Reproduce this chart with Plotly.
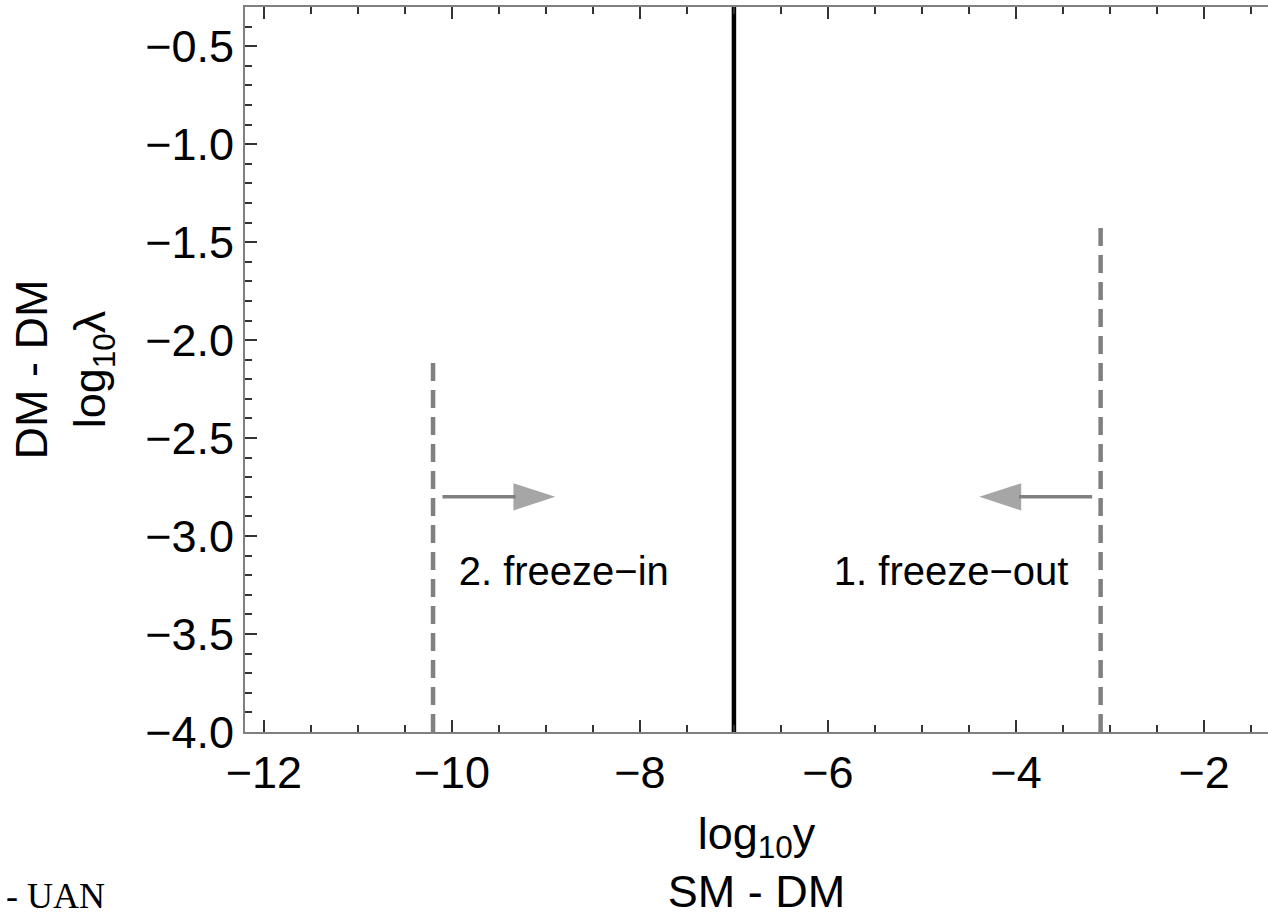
import plotly.graph_objects as go

# ---- data ----
boundary_x = [-7.0, -7.0]
boundary_y = [-4.0, -0.3]

freeze_in_x = [-10.2, -10.2]
freeze_in_y = [-4.0, -2.08]

freeze_out_x = [-3.1, -3.1]
freeze_out_y = [-4.0, -1.41]

arrow_in_x = [-10.1, -8.9]
arrow_in_y = [-2.8, -2.8]
arrow_out_x = [-3.19, -4.39]
arrow_out_y = [-2.8, -2.8]

label_text = ["2. freeze\u2212in", "1. freeze\u2212out"]
label_x = [-8.81, -4.69]
label_y = [-3.2, -3.2]

x_range = [-12.2, -1.32]
y_range = [-4.0, -0.3]

FONT = "Liberation Sans, Arial, sans-serif"
GRAY = "#808080"

fig = go.Figure()

fig.add_trace(go.Scatter(x=boundary_x, y=boundary_y, mode="lines",
                         line=dict(color="black", width=4.5), showlegend=False, hoverinfo="skip"))
for xs, ys in [(freeze_in_x, freeze_in_y), (freeze_out_x, freeze_out_y)]:
    fig.add_trace(go.Scatter(x=xs, y=ys, mode="lines",
                             line=dict(color=GRAY, width=4.5, dash="18px,9px"),
                             showlegend=False, hoverinfo="skip"))
for xs, ys in [(arrow_in_x, arrow_in_y), (arrow_out_x, arrow_out_y)]:
    fig.add_trace(go.Scatter(x=xs, y=ys, mode="lines+markers",
                             line=dict(color=GRAY, width=3.5),
                             marker=dict(symbol="arrow", size=[1, 44], angleref="previous",
                                         color=GRAY, line=dict(width=0)),
                             showlegend=False, hoverinfo="skip"))

fig.add_trace(go.Scatter(x=label_x, y=label_y, mode="text", text=label_text,
                         textfont=dict(family=FONT, size=40, color="black"),
                         textposition="middle center", showlegend=False, hoverinfo="skip"))

axis_common = dict(
    showgrid=False, zeroline=False, showline=True, linecolor=GRAY, linewidth=2,
    ticks="inside", tickcolor="#333333", tickwidth=2, ticklen=12,
    tickfont=dict(family=FONT, size=45, color="black"),
)

fig.update_xaxes(
    range=x_range, tick0=-12, dtick=2, mirror="ticks",
    minor=dict(dtick=0.5, ticks="inside", ticklen=7, tickcolor="#333333", tickwidth=2),
    title=dict(text="log<sub>10</sub>y<br>SM - DM", font=dict(family=FONT, size=45, color="black"),
               standoff=26),
    **axis_common,
)
fig.update_yaxes(
    range=y_range, tick0=-4, dtick=0.5, tickformat=".1f", mirror=False,
    minor=dict(dtick=0.1, ticks="inside", ticklen=7, tickcolor="#333333", tickwidth=2),
    title=dict(text="DM - DM<br>log<sub>10</sub>\u03bb", font=dict(family=FONT, size=45, color="black"),
               standoff=25),
    **axis_common,
)

fig.add_annotation(x=0, y=0, xref="paper", yref="paper", xanchor="left", yanchor="bottom",
                   xshift=-240, yshift=-185, text="- UAN", showarrow=False, borderpad=0,
                   font=dict(family="Liberation Serif, DejaVu Serif, serif", size=36, color="black"))

fig.update_layout(
    width=1268, height=917,
    margin=dict(l=245, r=0, t=7, b=185, autoexpand=False),
    plot_bgcolor="white", paper_bgcolor="white",
    showlegend=False,
)

fig.write_html("out.html")
